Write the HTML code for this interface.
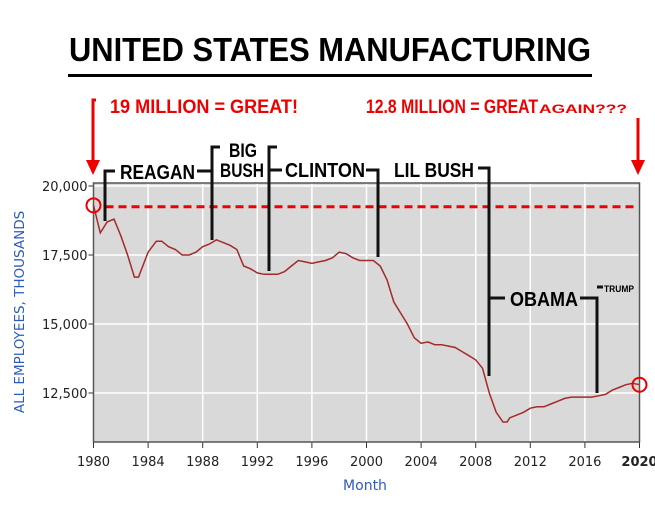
<!DOCTYPE html>
<html><head><meta charset="utf-8"><style>
html,body{margin:0;padding:0;background:#fff;}
svg{display:block;}
</style></head><body>
<svg id="c" width="655" height="512" xmlns="http://www.w3.org/2000/svg">
<text x="330" y="61" text-anchor="middle" font-family="Liberation Sans, sans-serif" font-weight="bold" font-size="33" textLength="522" lengthAdjust="spacingAndGlyphs">UNITED STATES MANUFACTURING</text>
<rect x="68" y="74" width="524" height="3" fill="#000"/>
<g id="plot"></g>
<g font-family="Liberation Sans, sans-serif" font-weight="bold">
<text x="110" y="113" fill="#e00" font-size="19" textLength="188" lengthAdjust="spacingAndGlyphs">19 MILLION = GREAT!</text>
<text x="366" y="113" fill="#e00" font-size="19" textLength="172" lengthAdjust="spacingAndGlyphs">12.8 MILLION = GREAT</text>
<text x="539" y="113" fill="#e00" font-size="12" textLength="88" lengthAdjust="spacingAndGlyphs">AGAIN???</text>
<path d="M96 100 H93 V160" stroke="#e00" stroke-width="3" fill="none"/>
<polygon points="86,160 100,160 93,175" fill="#e00"/>
<path d="M638 118 V160" stroke="#e00" stroke-width="3" fill="none"/>
<polygon points="631,160 645,160 638,175" fill="#e00"/>
<g stroke="#111" stroke-width="3" fill="none">
<path d="M115 171 H105 V221"/>
<path d="M197 171 H212 V147 H220 M212 171 V240"/>
<path d="M277 147 H269 V271 M269 170 H282"/>
<path d="M366 170 H378 V257"/>
<path d="M478 168 H489 V376 M489 298 H505"/>
<path d="M580 298 H597 V393 M597 287 H603"/>
</g>
<text x="120" y="179" font-size="20" textLength="75" lengthAdjust="spacingAndGlyphs">REAGAN</text>
<text x="229" y="157" font-size="19" textLength="28" lengthAdjust="spacingAndGlyphs">BIG</text>
<text x="220" y="177" font-size="19" textLength="44" lengthAdjust="spacingAndGlyphs">BUSH</text>
<text x="285" y="177" font-size="20" textLength="80" lengthAdjust="spacingAndGlyphs">CLINTON</text>
<text x="394" y="177" font-size="20" textLength="80" lengthAdjust="spacingAndGlyphs">LIL BUSH</text>
<text x="510" y="306" font-size="20" textLength="68" lengthAdjust="spacingAndGlyphs">OBAMA</text>
<text x="604" y="292" font-size="9" textLength="30" lengthAdjust="spacingAndGlyphs">TRUMP</text>
</g>
<text transform="translate(24,312) rotate(-90)" text-anchor="middle" fill="#2d5bbd" font-family="DejaVu Sans, sans-serif" font-size="13.5">ALL EMPLOYEES, THOUSANDS</text>
<text x="365" y="490" text-anchor="middle" fill="#2d5bbd" font-family="DejaVu Sans, sans-serif" font-size="14">Month</text>
</svg>
<script>
const years=[1980,1980.5,1981,1981.5,1982,1982.5,1983,1983.3,1984,1984.6,1985,1985.5,1986,1986.5,1987,1987.5,1988,1988.5,1989,1989.5,1990,1990.5,1991,1991.5,1992,1992.5,1993,1993.5,1994,1994.5,1995,1995.5,1996,1996.5,1997,1997.5,1998,1998.5,1999,1999.5,2000,2000.5,2001,2001.5,2002,2002.5,2003,2003.5,2004,2004.5,2005,2005.5,2006,2006.5,2007,2007.5,2008,2008.5,2009,2009.5,2010,2010.3,2010.5,2011,2011.5,2012,2012.5,2013,2013.5,2014,2014.5,2015,2015.5,2016,2016.5,2017,2017.5,2018,2018.5,2019,2019.5,2020];
const employment=[19300,18300,18700,18800,18200,17500,16700,16700,17600,18000,18000,17800,17700,17500,17500,17600,17800,17900,18050,17950,17850,17700,17100,17000,16850,16800,16800,16800,16900,17100,17300,17250,17200,17250,17300,17400,17600,17550,17400,17300,17300,17300,17100,16600,15800,15400,15000,14500,14300,14350,14250,14250,14200,14150,14000,13850,13700,13400,12500,11800,11450,11450,11600,11700,11800,11950,12000,12000,12100,12200,12300,12350,12350,12350,12350,12400,12450,12600,12700,12800,12850,12800];
const xTicks=[1980,1984,1988,1992,1996,2000,2004,2008,2012,2016,2020];
const yTicks=[12500,15000,17500,20000];
const yTickLabels=["12,500","15,000","17,500","20,000"];
const greatLevel=[19250];
const NS="http://www.w3.org/2000/svg";
const L=93.5,R=639.5,T=183,B=442;
const x=v=>L+(v-1980)/40*(R-L);
const y=v=>393-(v-12500)*0.0276;
const g=document.getElementById('plot');
function mk(t,a){const e=document.createElementNS(NS,t);for(const k in a)e.setAttribute(k,a[k]);g.appendChild(e);return e;}
let e=mk('rect',{x:L,y:T,width:R-L,height:B-T,fill:'#d9d9d9'});


xTicks.forEach((t,i)=>{
 let gl=mk('line',{x1:x(t),x2:x(t),y1:T,y2:B,stroke:'#fff','stroke-width':1.5});
 
 
 mk('line',{x1:x(t),x2:x(t),y1:B,y2:B+6,stroke:'#333'});
 let tx=mk('text',{x:x(t),y:B+24,'text-anchor':'middle','font-family':'DejaVu Sans, sans-serif','font-size':13,fill:'#222','font-weight':t===2020?'bold':'normal'});
 tx.textContent=t;
 
 
});
yTicks.forEach((t,i)=>{
 let gl=mk('line',{x1:L,x2:R,y1:y(t),y2:y(t),stroke:'#fff','stroke-width':1.5});
 
 
 mk('line',{x1:L-5,x2:L,y1:y(t),y2:y(t),stroke:'#333'});
 let tx=mk('text',{x:L-6,y:y(t)+5,'text-anchor':'end','font-family':'DejaVu Sans, sans-serif','font-size':13,fill:'#222'});
 tx.textContent=yTickLabels[i];
 
 
});
e=mk('path',{d:`M${L} ${T} H${R} V${B} H${L} Z`,fill:'none',stroke:'#555','stroke-width':1.5});


let gl2=mk('line',{x1:x(1980)+12,x2:R-4,y1:y(greatLevel[0]),y2:y(greatLevel[0]),stroke:'#e00','stroke-width':3,'stroke-dasharray':'8,5'});


let d=years.map((v,i)=>(i?'L':'M')+x(v).toFixed(1)+' '+y(employment[i]).toFixed(1)).join(' ');
e=mk('path',{d:d,fill:'none',stroke:'#a52a2a','stroke-width':1.5});


const n=years.length-1;
e=mk('circle',{cx:x(years[0]),cy:y(employment[0]),r:7,fill:'none',stroke:'#e00','stroke-width':2});


e=mk('circle',{cx:x(years[n]),cy:y(employment[n]),r:7,fill:'none',stroke:'#e00','stroke-width':2});


</script>
</body></html>
